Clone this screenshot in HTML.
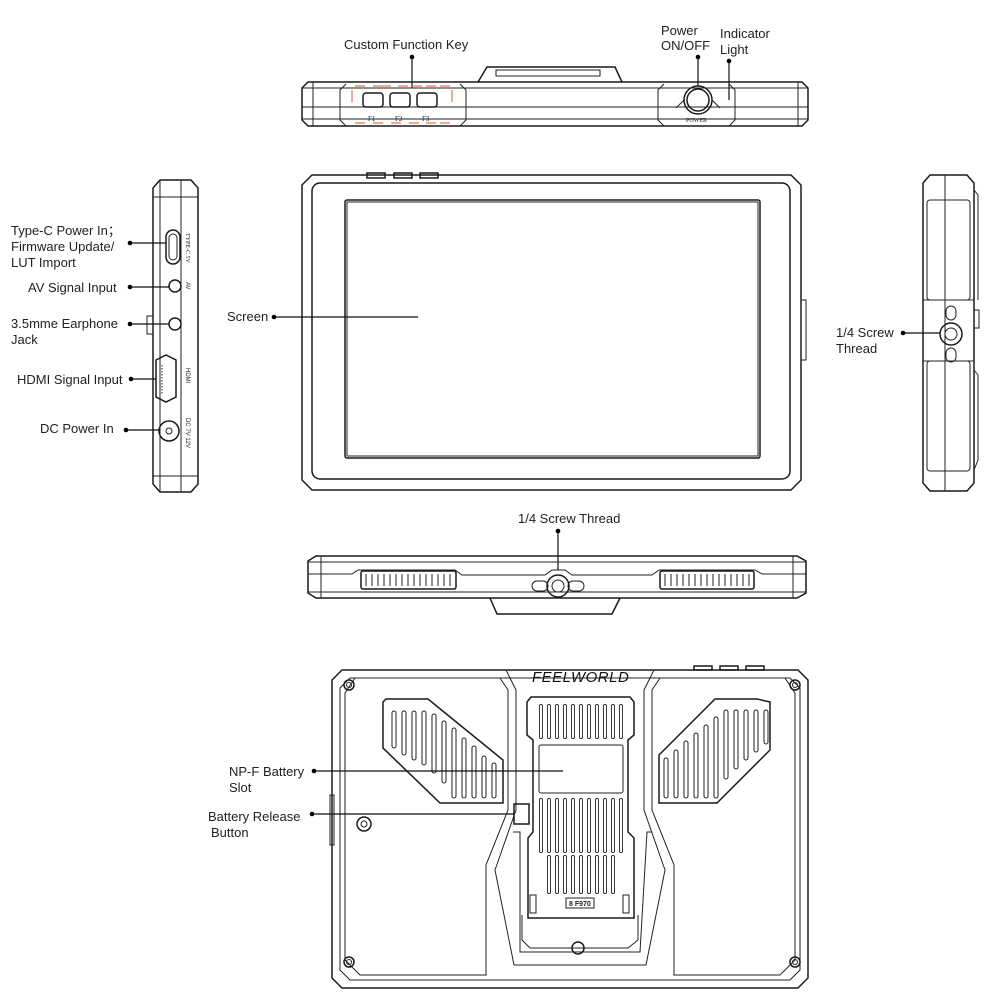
<!DOCTYPE html>
<html><head><meta charset="utf-8"><style>
html,body{margin:0;padding:0;background:#fff}
svg{display:block}
text{font-family:"Liberation Sans",sans-serif;font-size:13px;fill:#222}
.s{fill:none;stroke:#1a1a1a;stroke-width:1.5}
.t{fill:none;stroke:#222;stroke-width:1}
.l{stroke:#111;stroke-width:1.2}
.o{fill:none;stroke:#e07a50;stroke-width:1.2}
.sa{fill:none;stroke:#222;stroke-width:5;stroke-linecap:round}
.sb{fill:none;stroke:#fff;stroke-width:3;stroke-linecap:round}
</style></head><body>
<svg width="1000" height="1000" viewBox="0 0 1000 1000" xmlns="http://www.w3.org/2000/svg">
<defs>
<path id="lv" d="M394,713v33M404,713v40M414,713v45M424,713v50M434,716v55M444,723v58M454,730v66M464,740v56M474,748v48M484,758v38M494,765v31"/>
<path id="rv" d="M666,760v36M676,752v44M686,743v53M696,735v61M706,727v69M716,719v77M726,712v65M736,712v55M746,712v46M756,712v38M766,712v30"/>
<path id="rb" d="M541,706v31M549,706v31M557,706v31M565,706v31M573,706v31M581,706v31M589,706v31M597,706v31M605,706v31M613,706v31M621,706v31M541,800v51M549,800v51M557,800v51M565,800v51M573,800v51M581,800v51M589,800v51M597,800v51M605,800v51M613,800v51M621,800v51M549,857v35M557,857v35M565,857v35M573,857v35M581,857v35M589,857v35M597,857v35M605,857v35M613,857v35"/>
</defs>

<!-- TOP VIEW -->
<text x="344" y="49">Custom Function Key</text>
<line class="l" x1="412" y1="57" x2="412" y2="88"/><circle cx="412" cy="57" r="2.3"/>
<text x="661" y="35">Power</text><text x="661" y="50">ON/OFF</text>
<line class="l" x1="698" y1="57" x2="698" y2="86"/><circle cx="698" cy="57" r="2.3"/>
<text x="720" y="38">Indicator</text><text x="720" y="54">Light</text>
<line class="l" x1="729" y1="61" x2="729" y2="100"/><circle cx="729" cy="61" r="2.3"/>
<path class="s" d="M478,82 L487,67 L615,67 L622,82"/>
<rect class="t" x="496" y="70" width="104" height="6"/>
<path class="s" d="M308,82 L802,82 L808,88 L808,120 L802,126 L308,126 L302,120 L302,88 Z"/>
<line class="t" x1="302" y1="88" x2="808" y2="88"/>
<line class="t" x1="302" y1="107" x2="808" y2="107"/>
<line class="t" x1="302" y1="119" x2="808" y2="119"/>
<line class="t" x1="313" y1="82" x2="313" y2="126"/><line class="t" x1="798" y1="82" x2="798" y2="126"/>
<path class="t" d="M346,84 L340,90 L340,120 L346,126 M460,84 L466,90 L466,120 L460,126"/>
<path class="t" d="M664,84 L658,90 L658,120 L664,126 M729,84 L735,90 L735,120 L729,126"/>
<path class="o" d="M355,86h10M373,86h10M381,86h10M398,86h10M412,86h10M426,86h10M440,86h10M355,123h10M373,123h10M391,123h10M409,123h10M426,123h10M440,123h10M352,90v12M452,90v12"/>
<rect class="s" x="363" y="93" width="20" height="14" rx="3"/>
<rect class="s" x="390" y="93" width="20" height="14" rx="3"/>
<rect class="s" x="417" y="93" width="20" height="14" rx="3"/>
<text x="368" y="121" style="font-size:7px;font-family:'Liberation Serif',serif">F1</text>
<text x="395" y="121" style="font-size:7px;font-family:'Liberation Serif',serif">F2</text>
<text x="422" y="121" style="font-size:7px;font-family:'Liberation Serif',serif">F3</text>
<circle class="s" cx="698" cy="100" r="14"/><circle class="s" cx="698" cy="100" r="11"/>
<path class="t" d="M676,108 L684,100 M712,100 L720,108"/>
<text x="686" y="122" style="font-size:6px;font-family:'Liberation Serif',serif">POWER</text>

<!-- FRONT VIEW -->
<rect class="s" x="367" y="173" width="18" height="5"/><rect class="s" x="394" y="173" width="18" height="5"/><rect class="s" x="420" y="173" width="18" height="5"/>
<path class="s" d="M312,175 L791,175 L801,185 L801,480 L791,490 L312,490 L302,480 L302,185 Z"/>
<rect class="s" x="312" y="183" width="478" height="296" rx="8"/>
<rect class="s" x="345" y="200" width="415" height="258" rx="2"/>
<rect class="t" x="347" y="202" width="411" height="254"/>
<rect class="t" x="801" y="300" width="5" height="60"/>
<text x="227" y="321">Screen</text>
<line class="l" x1="274" y1="317" x2="418" y2="317"/><circle cx="274" cy="317" r="2.3"/>

<!-- LEFT SIDE VIEW -->
<path class="s" d="M160,180 L191,180 L198,188 L198,484 L191,492 L160,492 L153,484 L153,188 Z"/>
<line class="t" x1="181" y1="180" x2="181" y2="492"/>
<line class="t" x1="153" y1="197" x2="198" y2="197"/><line class="t" x1="153" y1="476" x2="198" y2="476"/>
<line class="t" x1="160" y1="180" x2="160" y2="492"/>
<rect class="t" x="147" y="316" width="6" height="18"/>
<rect class="s" x="166" y="230" width="14" height="34" rx="7"/><rect class="t" x="169" y="234" width="8" height="26" rx="4"/>
<circle class="s" cx="175" cy="286" r="6"/>
<circle class="s" cx="175" cy="324" r="6"/>
<path class="s" d="M151,360 L161,355 L171,360 L171,397 L161,402 L151,397 Z" transform="translate(5,0)"/>
<path class="t" d="M162,365v30" stroke-dasharray="1.5,1.5" stroke-width="3"/>
<circle class="s" cx="169" cy="431" r="10"/><circle class="t" cx="169" cy="431" r="3"/>
<text x="186" y="233" style="font-size:6px;font-family:'Liberation Serif',serif" transform="rotate(90 186 233)">TYPE-C 5V</text>
<text x="186" y="282" style="font-size:6px" transform="rotate(90 186 282)">AV</text>
<text x="186" y="368" style="font-size:6px" transform="rotate(90 186 368)">HDMI</text>
<text x="186" y="418" style="font-size:6px" transform="rotate(90 186 418)">DC 7V 12V</text>
<text x="11" y="235">Type-C Power In；</text>
<text x="11" y="251">Firmware Update/</text>
<text x="11" y="267">LUT Import</text>
<line class="l" x1="130" y1="243" x2="166" y2="243"/><circle cx="130" cy="243" r="2.3"/>
<text x="28" y="292">AV Signal Input</text>
<line class="l" x1="130" y1="287" x2="169" y2="287"/><circle cx="130" cy="287" r="2.3"/>
<text x="11" y="328">3.5mme Earphone</text><text x="11" y="344">Jack</text>
<line class="l" x1="130" y1="324" x2="169" y2="324"/><circle cx="130" cy="324" r="2.3"/>
<text x="17" y="384">HDMI Signal Input</text>
<line class="l" x1="131" y1="379" x2="156" y2="379"/><circle cx="131" cy="379" r="2.3"/>
<text x="40" y="433">DC Power In</text>
<line class="l" x1="126" y1="430" x2="159" y2="430"/><circle cx="126" cy="430" r="2.3"/>

<!-- RIGHT SIDE VIEW -->
<path class="s" d="M930,175 L967,175 L974,183 L974,483 L967,491 L930,491 L923,483 L923,183 Z"/>
<line class="t" x1="945" y1="175" x2="945" y2="491"/>
<rect class="t" x="927" y="200" width="43" height="100" rx="3"/>
<rect class="t" x="927" y="361" width="43" height="110" rx="3"/>
<line class="t" x1="923" y1="300" x2="974" y2="300"/><line class="t" x1="923" y1="361" x2="974" y2="361"/>
<circle class="s" cx="951" cy="334" r="11"/><circle class="t" cx="951" cy="334" r="6"/>
<rect class="t" x="946" y="306" width="10" height="14" rx="5"/><rect class="t" x="946" y="348" width="10" height="14" rx="5"/>
<path class="t" d="M974,190 L978,195 L978,300 M974,370 L978,375 L978,460 L974,470"/>
<rect class="t" x="974" y="310" width="5" height="18"/>
<text x="836" y="337">1/4 Screw</text><text x="836" y="353">Thread</text>
<line class="l" x1="903" y1="333" x2="940" y2="333"/><circle cx="903" cy="333" r="2.3"/>

<!-- BOTTOM VIEW -->
<text x="518" y="523">1/4 Screw Thread</text>
<line class="l" x1="558" y1="531" x2="558" y2="570"/><circle cx="558" cy="531" r="2.3"/>
<path class="s" d="M316,556 L797,556 L806,561 L806,593 L797,598 L316,598 L308,593 L308,561 Z"/>
<line class="t" x1="308" y1="562" x2="806" y2="562"/><line class="t" x1="308" y1="592" x2="806" y2="592"/>
<line class="t" x1="321" y1="556" x2="321" y2="598"/><line class="t" x1="793" y1="556" x2="793" y2="598"/>
<path class="t" d="M308,574 L352,574 L358,570 L455,570 L462,575 L545,575 L552,570 L565,570 L572,575 L652,575 L659,570 L755,570 L762,574 L806,574"/>
<rect class="s" x="361" y="571" width="95" height="18" rx="2"/>
<rect class="s" x="660" y="571" width="94" height="18" rx="2"/>
<g class="t">
<path d="M366,574v12M372,574v12M378,574v12M384,574v12M390,574v12M396,574v12M402,574v12M408,574v12M414,574v12M420,574v12M426,574v12M432,574v12M438,574v12M444,574v12M450,574v12"/>
<path d="M665,574v12M671,574v12M677,574v12M683,574v12M689,574v12M695,574v12M701,574v12M707,574v12M713,574v12M719,574v12M725,574v12M731,574v12M737,574v12M743,574v12M749,574v12"/>
</g>
<circle class="s" cx="558" cy="586" r="11"/><circle class="t" cx="558" cy="586" r="6"/>
<rect class="t" x="532" y="581" width="16" height="10" rx="5"/><rect class="t" x="568" y="581" width="16" height="10" rx="5"/>
<path class="s" d="M490,598 L497,614 L612,614 L620,598"/>

<!-- BACK VIEW -->
<rect class="s" x="694" y="666" width="18" height="4"/><rect class="s" x="720" y="666" width="18" height="4"/><rect class="s" x="746" y="666" width="18" height="4"/>
<path class="s" d="M342,670 L798,670 L808,680 L808,978 L798,988 L342,988 L332,978 L332,680 Z"/>
<path class="t" d="M350,678 L790,678 L800,688 L800,970 L790,980 L350,980 L340,970 L340,688 Z"/>
<path class="t" d="M355,678 L500,678 L508,690 L508,810 L486,865 L486,975 L360,975 L345,960 L345,693 Z"/>
<path class="t" d="M785,678 L660,678 L652,690 L652,810 L674,865 L674,975 L780,975 L795,960 L795,693 Z"/>
<path class="t" d="M506,670 L516,690 L516,810 L495,870 L514,965 L646,965 L665,870 L644,810 L644,690 L654,670"/>
<text x="532" y="682" style="font-size:15px;font-style:italic;letter-spacing:0.5px;fill:#111">FEELWORLD</text>
<circle class="s" cx="349" cy="685" r="5"/><circle class="t" cx="349" cy="685" r="2.5"/>
<circle class="s" cx="795" cy="685" r="5"/><circle class="t" cx="795" cy="685" r="2.5"/>
<circle class="s" cx="349" cy="962" r="5"/><circle class="t" cx="349" cy="962" r="2.5"/>
<circle class="s" cx="795" cy="962" r="5"/><circle class="t" cx="795" cy="962" r="2.5"/>
<circle class="s" cx="364" cy="824" r="7"/><circle class="t" cx="364" cy="824" r="3"/>
<circle class="s" cx="578" cy="948" r="6"/>
<!-- left vent -->
<path class="s" d="M386,699 L428,699 L503,760 L503,803 L440,803 L383,748 L383,702 Z"/>
<use href="#lv" class="sa"/><use href="#lv" class="sb"/>
<!-- right vent -->
<path class="s" d="M757,699 L715,699 L659,755 L659,803 L717,803 L770,750 L770,702 Z"/>
<use href="#rv" class="sa"/><use href="#rv" class="sb"/>
<!-- battery plate -->
<path class="s" d="M531,697 L630,697 L634,702 L634,735 L628,740 L628,832 L634,838 L634,918 L528,918 L528,838 L533,832 L533,740 L527,735 L527,702 Z"/>
<rect class="t" x="539" y="745" width="84" height="48" rx="2"/>
<use href="#rb" class="sa" style="stroke-width:4"/><use href="#rb" class="sb" style="stroke-width:2.2"/>
<rect class="t" x="566" y="898" width="28" height="10"/>
<text x="569" y="906" style="font-size:7px;font-weight:bold">8 F970</text>
<rect class="t" x="530" y="895" width="6" height="18"/><rect class="t" x="623" y="895" width="6" height="18"/>
<path class="t" d="M522,915 L522,940 L530,948 L628,948 L638,940 L638,915"/>
<path class="t" d="M513,832 L520,832 L520,952 L640,952 L647,832 L652,832"/>
<rect class="s" x="514" y="804" width="15" height="20" fill="#fff"/>
<rect class="t" x="330" y="795" width="4" height="50"/>
<text x="229" y="776">NP-F Battery</text><text x="229" y="792">Slot</text>
<line class="l" x1="314" y1="771" x2="563" y2="771"/><circle cx="314" cy="771" r="2.3"/>
<text x="208" y="821">Battery Release</text><text x="211" y="837">Button</text>
<line class="l" x1="312" y1="814" x2="514" y2="814"/><circle cx="312" cy="814" r="2.3"/>
</svg>
</body></html>
